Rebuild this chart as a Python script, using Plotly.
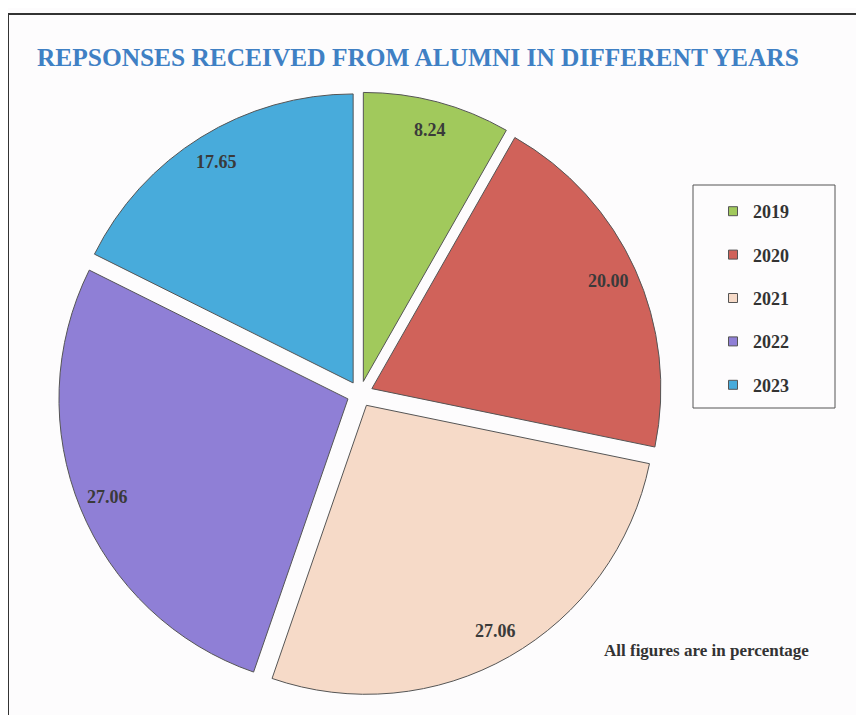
import math
import plotly.graph_objects as go

years = ["2019", "2020", "2021", "2022", "2023"]
values = [8.24, 20.00, 27.06, 27.06, 17.65]
value_labels = ["8.24", "20.00", "27.06", "27.06", "17.65"]
colors = ["#a1c95c", "#d0625a", "#f6dac8", "#8f7fd6", "#48abdb"]

W, H = 856, 707          # page has an 8px body margin
OX, OY = 8, 8
serif = "Liberation Serif, DejaVu Serif, serif"


def px(sx):
    return (sx - OX) / W


def py(sy):
    return 1 - (sy - OY) / H


PULL = 0.045
cx, cy, half = 360, 394, 302
dom_x = [px(cx - half), px(cx + half)]
dom_y = [py(cy + half), py(cy - half)]

fig = go.Figure()
fig.add_trace(go.Pie(
    labels=years, values=values,
    sort=False, direction="clockwise", rotation=0,
    pull=[PULL] * len(values),
    marker=dict(colors=colors, line=dict(color="#555555", width=1)),
    textinfo="none",
    showlegend=False, hoverinfo="skip",
    domain=dict(x=dom_x, y=dom_y),
))

# value labels placed near the outer end of each slice (Excel "inside end")
R = half / (1 + PULL)
total = sum(values)
cum = 0.0
annotations = []
for v, lab in zip(values, value_labels):
    mid = (cum + v / 2) / total
    cum += v
    th = 2 * math.pi * mid
    d = 0.9 * R + PULL * R
    annotations.append(dict(
        text=f"<b>{lab}</b>", xref="paper", yref="paper",
        x=px(cx + d * math.sin(th)), y=py(cy - d * math.cos(th)),
        xanchor="center", yanchor="middle", showarrow=False,
        font=dict(family=serif, size=18, color="#3a3a3a"),
    ))

annotations.append(dict(
    text="<b>All figures are in percentage</b>", xref="paper", yref="paper",
    x=px(706), y=py(650), xanchor="center", yanchor="middle",
    showarrow=False, font=dict(family=serif, size=17, color="#333333"),
))

# legend entries (one group each for spacing)
for yv, c in zip(years, colors):
    fig.add_trace(go.Scatter(
        x=[None], y=[None], mode="markers", name=yv, legendgroup=yv,
        marker=dict(symbol="square", size=9, color=c, line=dict(color="#555555", width=1)),
    ))

fig.update_layout(
    width=W, height=H,
    margin=dict(l=0, r=0, t=0, b=0),
    paper_bgcolor="#fdfcfd", plot_bgcolor="#fdfcfd",
    xaxis=dict(visible=False), yaxis=dict(visible=False),
    title=dict(text="<b>REPSONSES RECEIVED FROM ALUMNI IN DIFFERENT YEARS</b>",
               x=px(37), xanchor="left", y=py(57), yanchor="middle",
               font=dict(family=serif, size=25.4, color="#3f80c4")),
    legend=dict(x=px(713), y=py(193), xanchor="left", yanchor="top",
                bgcolor="rgba(0,0,0,0)", tracegroupgap=17,
                font=dict(family=serif, size=18, color="#333333", weight="bold"),
                itemwidth=30),
    shapes=[
        dict(type="rect", xref="paper", yref="paper",
             x0=px(8), x1=1.01, y0=-0.01, y1=py(14),
             line=dict(color="#333333", width=2)),
        dict(type="rect", xref="paper", yref="paper",
             x0=px(693), x1=px(835), y0=py(408), y1=py(185),
             line=dict(color="#555555", width=1)),
    ],
    annotations=annotations,
)

fig.write_html("out.html")
